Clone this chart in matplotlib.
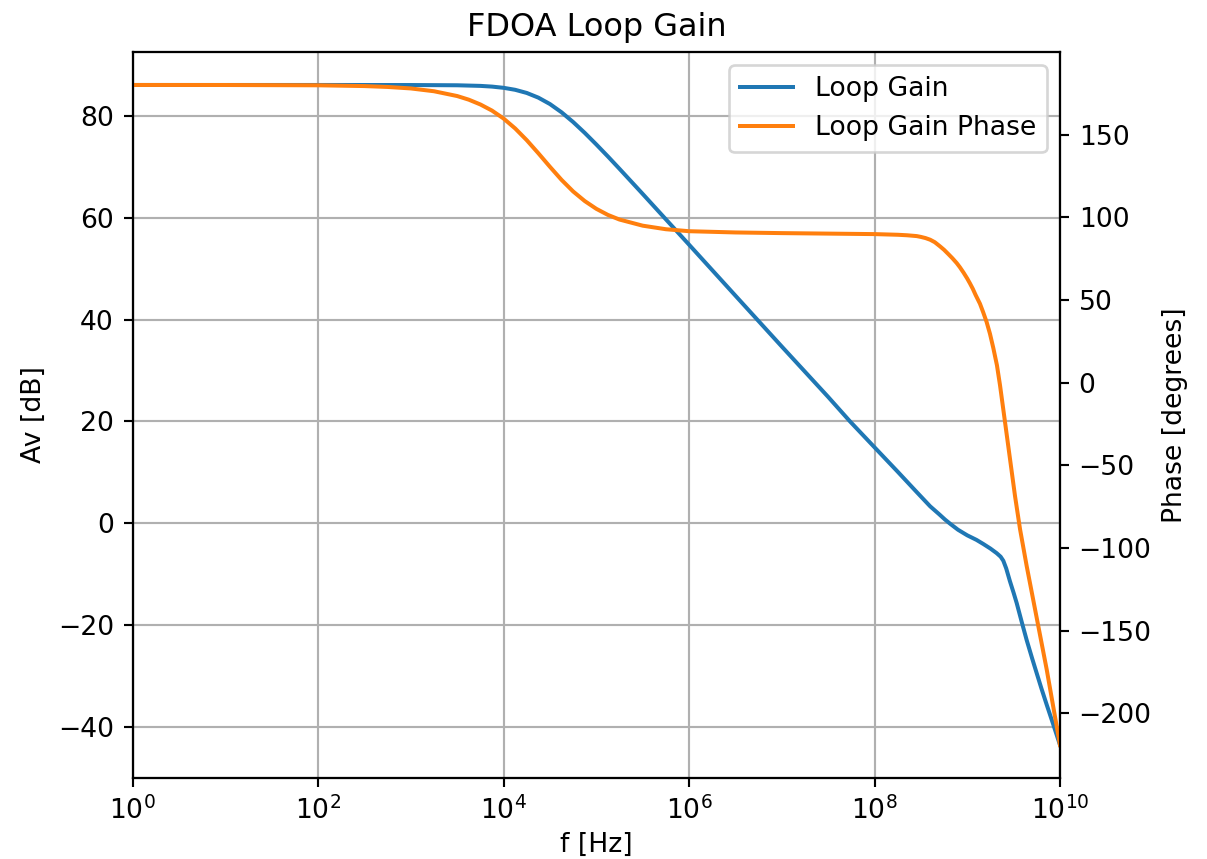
import numpy as np
import matplotlib
matplotlib.use("Agg")
import matplotlib.pyplot as plt
from matplotlib.ticker import NullLocator

# log10 of frequency [Hz]
log_f_gain = [0.0, 1.0, 2.0, 3.0, 3.5, 3.75, 3.875, 4.0, 4.125, 4.25, 4.375, 4.5,
              4.625, 4.75, 4.875, 5.0, 5.125, 5.25, 5.5, 5.75, 6.0, 6.5, 7.0, 7.5,
              7.735, 8.0, 8.25, 8.455, 8.6, 8.7, 8.76, 8.814, 8.9, 9.0, 9.1, 9.173, 9.25,
              9.317, 9.36, 9.389, 9.42, 9.46, 9.5, 9.533, 9.59, 9.641, 9.7, 9.749,
              9.8, 9.857, 9.93, 10.0]
gain_db = [86.1, 86.1, 86.1, 86.09, 86.04, 85.92, 85.78, 85.54, 85.15, 84.53, 83.61, 82.35,
           80.73, 78.82, 76.69, 74.41, 72.05, 69.62, 64.69, 59.7, 54.72, 44.7, 34.7, 24.8,
           20.0, 14.9, 10.1, 6.1, 3.3, 1.7, 0.7, -0.1, -1.3, -2.4, -3.3, -4.1, -5.0,
           -5.9, -6.6, -7.4, -8.9, -11.4, -13.7, -15.7, -19.6, -23.0, -26.6, -29.5,
           -32.5, -35.7, -39.7, -43.6]

log_f_phase = [0.0, 1.0, 2.0, 2.5, 2.75, 3.0, 3.25, 3.5, 3.625, 3.75, 3.875, 4.0, 4.125,
               4.25, 4.375, 4.5, 4.625, 4.75, 4.875, 5.0, 5.125, 5.25, 5.5, 5.75, 6.0,
               6.5, 7.0, 7.5, 8.0, 8.25, 8.35, 8.455, 8.5, 8.55, 8.6, 8.65, 8.706,
               8.75, 8.8, 8.84, 8.886, 8.92, 8.96, 9.0, 9.029, 9.06, 9.09, 9.137, 9.17,
               9.209, 9.245, 9.281, 9.32, 9.353, 9.407, 9.461, 9.515, 9.569, 9.641,
               9.749, 9.857, 10.0]
phase_deg = [180.0, 179.98, 179.8, 179.33, 178.8, 177.9, 176.2, 173.3, 171.1, 168.2, 164.5,
             159.7, 153.7, 146.6, 138.7, 130.5, 122.6, 115.6, 109.8, 105.1, 101.4, 98.6,
             94.9, 92.75, 91.55, 90.8, 90.4, 90.1, 89.8, 89.4, 89.1, 88.6, 88.1, 87.4,
             86.4, 84.9, 82.4, 80.3, 77.5, 75.2, 72.3, 69.8, 66.5, 62.9, 60.0, 56.7,
             53.0, 47.7, 42.8, 36.6, 29.5, 20.9, 10.5, -1.5, -23.8, -46.2, -68.6,
             -88.6, -111.0, -142.3, -173.6, -219.2]

xticks = [1e0, 1e2, 1e4, 1e6, 1e8, 1e10]

freq_gain = 10.0 ** np.array(log_f_gain)
freq_phase = 10.0 ** np.array(log_f_phase)

DPI = 192
fig = plt.figure(figsize=(1207 / DPI, 859 / DPI), dpi=DPI)
ax1 = fig.add_axes([0.1099, 0.0943, 0.7683, 0.8452])
ax2 = ax1.twinx()

l1, = ax1.semilogx(freq_gain, gain_db, color="C0", label="Loop Gain")
l2, = ax2.semilogx(freq_phase, phase_deg, color="C1", label="Loop Gain Phase")

ax1.set_xlim(1, 1e10)
ax1.set_xticks(xticks)
ax1.xaxis.set_minor_locator(NullLocator())
ax2.xaxis.set_minor_locator(NullLocator())
ax1.grid(True)

ax1.set_xlabel("f [Hz]", labelpad=2.5)
ax1.set_ylabel("Av [dB]")
ax2.set_ylabel("Phase [degrees]")
ax1.set_title("FDOA Loop Gain")

ax2.legend([l1, l2], [l1.get_label(), l2.get_label()], loc="upper right")

fig.savefig("out.png", dpi=DPI)
